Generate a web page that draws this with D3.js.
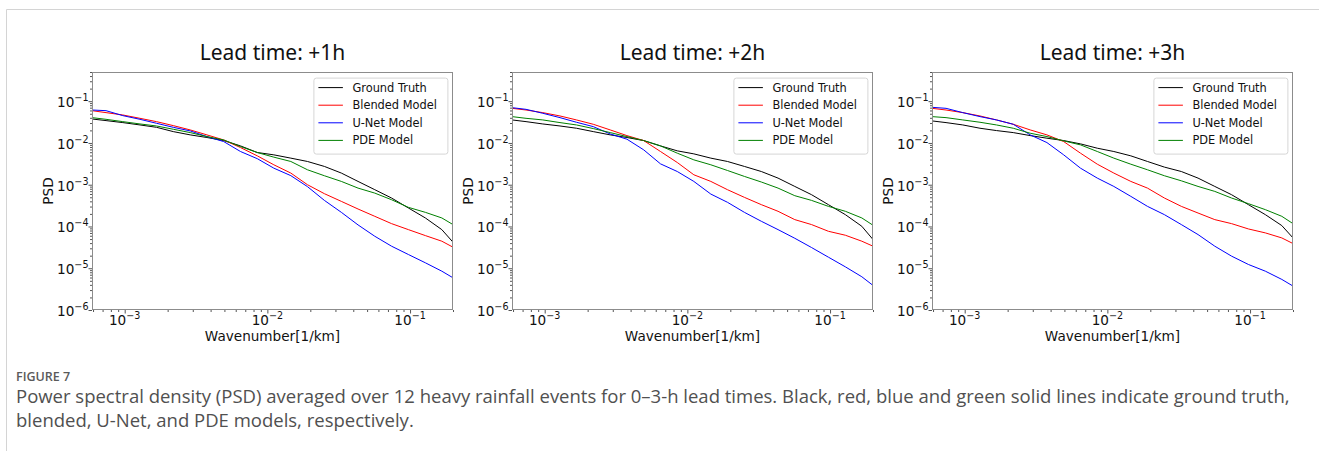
<!DOCTYPE html>
<html>
<head>
<meta charset="utf-8">
<script src="https://cdn.jsdelivr.net/npm/d3@7"></script>
<style>
  html, body { margin: 0; padding: 0; background: #fff; }
  svg { display: block; }
</style>
</head>
<body>
<svg id="fig" width="1319" height="451"></svg>
<script>
// Wavenumber samples [1/km]
const wavenumber = [5.9e-4, 7.4e-4, 9.7e-4, 1.28e-3, 1.67e-3, 2.19e-3, 2.88e-3, 3.77e-3, 4.94e-3, 6.48e-3,
  8.5e-3, 1.11e-2, 1.46e-2, 1.91e-2, 2.51e-2, 3.3e-2, 4.32e-2, 5.66e-2, 7.42e-2, 9.74e-2, 0.128, 0.167, 0.2];

// Lead time +1h
const truth1h   = [0.0375, 0.0343, 0.0307, 0.0270, 0.0237, 0.0187, 0.0156, 0.0135, 0.0114, 0.0085, 0.0059, 0.00519, 0.00433, 0.0036, 0.00274, 0.0019, 0.0012, 0.00076, 0.00048, 0.000277, 0.00016, 8.4e-5, 4.2e-5];
const blended1h = [0.0593, 0.0532, 0.0468, 0.0389, 0.0324, 0.0260, 0.0205, 0.0156, 0.0118, 0.00776, 0.00491, 0.0030, 0.0019, 0.00100, 0.00061, 0.000399, 0.000262, 0.000175, 0.000117, 8.4e-5, 6.05e-5, 4.44e-5, 3.19e-5];
const unet1h    = [0.0615, 0.0593, 0.0451, 0.0368, 0.0296, 0.0237, 0.0194, 0.0142, 0.0108, 0.00624, 0.00420, 0.00249, 0.00165, 0.000900, 0.000421, 0.000218, 0.000109, 5.83e-5, 3.37e-5, 2.13e-5, 1.35e-5, 8.5e-6, 5.9e-6];
const pde1h     = [0.0404, 0.0368, 0.0324, 0.0285, 0.0255, 0.0213, 0.0177, 0.0142, 0.0118, 0.0082, 0.0059, 0.00457, 0.0036, 0.00228, 0.00164, 0.0012, 0.00083, 0.00063, 0.000437, 0.000287, 0.000218, 0.00016, 0.000111];

// Lead time +2h
const truth2h   = [0.0356, 0.0324, 0.0285, 0.0255, 0.0225, 0.0187, 0.0156, 0.0135, 0.0114, 0.0085, 0.00647, 0.00548, 0.00433, 0.0036, 0.00274, 0.00207, 0.00144, 0.00091, 0.000577, 0.000333, 0.000192, 0.000101, 4.87e-5];
const blended2h = [0.0675, 0.0615, 0.0532, 0.0443, 0.0356, 0.0280, 0.0205, 0.0150, 0.0114, 0.00624, 0.0034, 0.00173, 0.0012, 0.00076, 0.000498, 0.000333, 0.000231, 0.000146, 0.000111, 7.67e-5, 6.17e-5, 4.44e-5, 3.37e-5];
const unet2h    = [0.0700, 0.0638, 0.0513, 0.0404, 0.0313, 0.0246, 0.0164, 0.0123, 0.00684, 0.00316, 0.00207, 0.0012, 0.000597, 0.000379, 0.000218, 0.000133, 8.41e-5, 5.22e-5, 3.13e-5, 1.84e-5, 1.08e-5, 6.25e-6, 3.88e-6];
const pde2h     = [0.0427, 0.0389, 0.0356, 0.0307, 0.0270, 0.0221, 0.0177, 0.0142, 0.0114, 0.0085, 0.00569, 0.00394, 0.0030, 0.00219, 0.00158, 0.00116, 0.00083, 0.000546, 0.000421, 0.000303, 0.000231, 0.00016, 0.000107];

// Lead time +3h
const truth3h   = [0.0337, 0.0307, 0.0270, 0.0225, 0.0198, 0.0177, 0.0150, 0.0130, 0.0114, 0.0095, 0.00748, 0.00624, 0.00491, 0.0036, 0.00264, 0.00207, 0.00144, 0.00091, 0.000577, 0.000333, 0.000192, 0.000105, 5.32e-5];
const blended3h = [0.0675, 0.0615, 0.0532, 0.0443, 0.0356, 0.0280, 0.0205, 0.0156, 0.0108, 0.00569, 0.0031, 0.0019, 0.0012, 0.00083, 0.00048, 0.000303, 0.00021, 0.000146, 0.000117, 8.73e-5, 7.02e-5, 5.32e-5, 3.9e-5];
const unet3h    = [0.0713, 0.0675, 0.0532, 0.0427, 0.0356, 0.0280, 0.0156, 0.0102, 0.00519, 0.00249, 0.00144, 0.00091, 0.000526, 0.000303, 0.000192, 0.000111, 6.4e-5, 3.37e-5, 1.95e-5, 1.23e-5, 8.5e-6, 5.4e-6, 3.74e-6];
const pde3h     = [0.0427, 0.0404, 0.0356, 0.0313, 0.0270, 0.0225, 0.0171, 0.0142, 0.0112, 0.0090, 0.00624, 0.00433, 0.0031, 0.00228, 0.00164, 0.00124, 0.00091, 0.000692, 0.00048, 0.000352, 0.000253, 0.000175, 0.000117];

const panelTitles = ["Lead time: +1h", "Lead time: +2h", "Lead time: +3h"];
const seriesNames = ["Ground Truth", "Blended Model", "U-Net Model", "PDE Model"];
const seriesColors = ["#000000", "#ff0000", "#0000ff", "#008000"];
const panelSeries = [
  [truth1h, blended1h, unet1h, pde1h],
  [truth2h, blended2h, unet2h, pde2h],
  [truth3h, blended3h, unet3h, pde3h]
];
const xMajorTicks = [1e-3, 1e-2, 1e-1];
const yMajorTicks = [1e-6, 1e-5, 1e-4, 1e-3, 1e-2, 1e-1];
const xDomain = [5.9e-4, 0.2];
const yDomain = [1e-6, 0.5];

const captionHead = "FIGURE 7";
const captionLines = [
  "Power spectral density (PSD) averaged over 12 heavy rainfall events for 0\u20133-h lead times. Black, red, blue and green solid lines indicate ground truth,",
  "blended, U-Net, and PDE models, respectively."
];

// ---- layout ----
const svg = d3.select("#fig");
const panelLeft = [92, 512, 932];
const plotTop = 72, plotW = 361, plotH = 238;
const tickFont = "'DejaVu Sans', sans-serif";

// card frame
svg.append("path")
  .attr("d", "M6.5,451 V9.5 H1319")
  .attr("fill", "none").attr("stroke", "#d4d4d4").attr("stroke-width", 1);

function minorTicks(lo, hi) {
  const out = [];
  for (let e = -7; e <= 1; e++) {
    for (let m = 2; m <= 9; m++) {
      const v = m * Math.pow(10, e);
      if (v >= lo && v <= hi) out.push(v);
    }
  }
  return out;
}

function powerLabel(sel, v) {
  const exp = Math.round(Math.log10(v));
  sel.append("tspan").text("10");
  sel.append("tspan").attr("font-size", 9.6).attr("dy", -6).text("\u2212" + Math.abs(exp));
}

panelSeries.forEach((series, p) => {
  const g = svg.append("g").attr("transform", `translate(${panelLeft[p]},${plotTop})`);
  const x = d3.scaleLog().domain(xDomain).range([0, plotW]);
  const y = d3.scaleLog().domain(yDomain).range([plotH, 0]);

  // clip region for the curves
  const clipId = "clip" + p;
  g.append("clipPath").attr("id", clipId)
    .append("rect").attr("width", plotW).attr("height", plotH);

  // axes: major and minor tick marks
  const xAxisMajor = d3.axisBottom(x).tickValues(xMajorTicks).tickSize(3.5).tickFormat("");
  const xAxisMinor = d3.axisBottom(x).tickValues(minorTicks(xDomain[0], xDomain[1])).tickSize(2).tickFormat("");
  const yAxisMajor = d3.axisLeft(y).tickValues(yMajorTicks).tickSize(3.5).tickFormat("");
  const yAxisMinor = d3.axisLeft(y).tickValues(minorTicks(yDomain[0], yDomain[1])).tickSize(2).tickFormat("");

  [xAxisMajor, xAxisMinor].forEach(ax => {
    const a = g.append("g").attr("transform", `translate(0,${plotH})`).call(ax);
    a.select(".domain").remove();
    a.selectAll("line").attr("stroke", "#555");
  });
  [yAxisMajor, yAxisMinor].forEach(ax => {
    const a = g.append("g").call(ax);
    a.select(".domain").remove();
    a.selectAll("line").attr("stroke", "#555");
  });

  // tick labels
  xMajorTicks.forEach(v => {
    const t = g.append("text")
      .attr("x", x(v)).attr("y", plotH + 15)
      .attr("text-anchor", "middle")
      .attr("font-family", tickFont).attr("font-size", 13.6).attr("fill", "#111");
    powerLabel(t, v);
  });
  yMajorTicks.forEach(v => {
    const t = g.append("text")
      .attr("x", -3.5).attr("y", y(v) + 6)
      .attr("text-anchor", "end")
      .attr("font-family", tickFont).attr("font-size", 13.6).attr("fill", "#111");
    powerLabel(t, v);
  });

  // curves
  const line = d3.line()
    .x((d, i) => x(wavenumber[i]))
    .y(d => y(d));
  const curves = g.append("g").attr("clip-path", `url(#${clipId})`);
  series.forEach((vals, s) => {
    curves.append("path")
      .datum(vals)
      .attr("d", line)
      .attr("fill", "none")
      .attr("stroke", seriesColors[s])
      .attr("stroke-width", 1)
      .attr("stroke-linejoin", "round");
  });

  // spines
  g.append("rect")
    .attr("x", 0.5).attr("y", 0.5).attr("width", plotW - 1).attr("height", plotH - 1)
    .attr("fill", "none").attr("stroke", "#8c8c8c").attr("stroke-width", 1);

  // title
  g.append("text")
    .attr("x", plotW / 2).attr("y", -12)
    .attr("text-anchor", "middle")
    .attr("font-family", "'Noto Sans', sans-serif").attr("font-size", 21).attr("fill", "#111")
    .text(panelTitles[p]);

  // axis labels
  g.append("text")
    .attr("x", plotW / 2).attr("y", plotH + 30.5)
    .attr("text-anchor", "middle")
    .attr("font-family", tickFont).attr("font-size", 13.6).attr("fill", "#111")
    .text("Wavenumber[1/km]");
  g.append("text")
    .attr("transform", `translate(${53 - 92},${plotH / 2}) rotate(-90)`)
    .attr("text-anchor", "middle")
    .attr("font-family", tickFont).attr("font-size", 13.6).attr("fill", "#111")
    .text("PSD");

  // legend
  const pad = 5.6, lw = 134, lh = 76;
  const lg = g.append("g").attr("transform", `translate(${plotW - pad - lw},${pad})`);
  lg.append("rect")
    .attr("x", 0.5).attr("y", 0.5).attr("width", lw).attr("height", lh).attr("rx", 2.5)
    .attr("fill", "#fff").attr("fill-opacity", 0.85)
    .attr("stroke", "#d6d6d6").attr("stroke-width", 1);
  seriesNames.forEach((name, s) => {
    const ly = 10 + s * 17.6;
    lg.append("line")
      .attr("x1", 5).attr("x2", 29.5).attr("y1", ly).attr("y2", ly)
      .attr("stroke", seriesColors[s]).attr("stroke-width", 1);
    lg.append("text")
      .attr("x", 39).attr("y", ly).attr("dy", "0.36em")
      .attr("font-family", tickFont).attr("font-size", 11.4).attr("fill", "#111")
      .text(name);
  });
});

// caption
svg.append("text")
  .attr("x", 16).attr("y", 381)
  .attr("font-family", "'Open Sans', sans-serif").attr("font-size", 12.5).attr("font-weight", 600)
  .attr("fill", "#5a5a5a")
  .text(captionHead);

const capSel = captionLines.map((t, i) =>
  svg.append("text")
    .attr("x", 16).attr("y", 403 + i * 24)
    .attr("font-family", "'Open Sans', sans-serif").attr("font-size", 15)
    .attr("fill", "#505050")
    .text(t));
// size the caption so its first line spans the text column
const firstLen = capSel[0].node().getComputedTextLength();
const capSize = 15 * 1274 / firstLen;
capSel.forEach(s => s.attr("font-size", capSize));
</script>
</body>
</html>
